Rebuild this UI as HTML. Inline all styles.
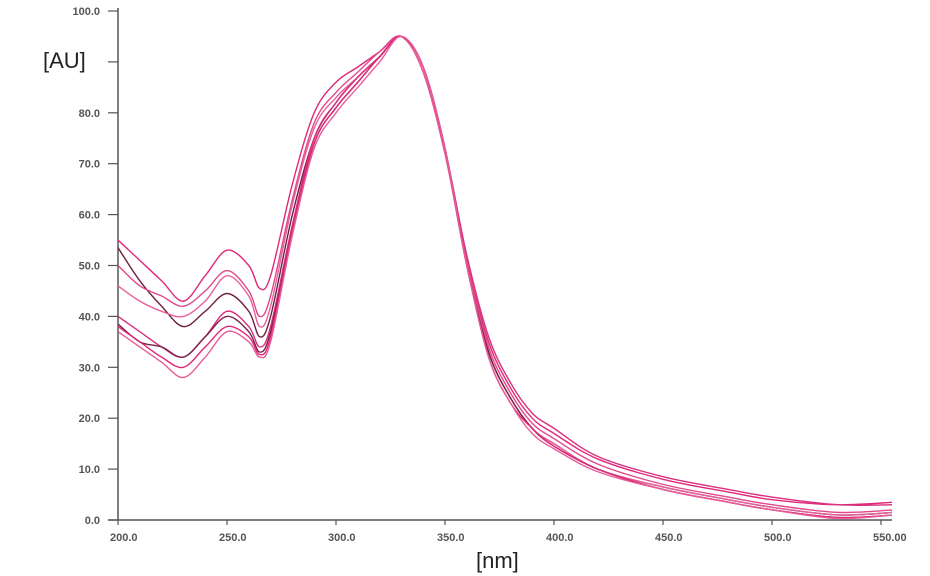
<!DOCTYPE html>
<html><head><meta charset="utf-8"><style>
body{margin:0;background:#fff;}
svg{display:block;font-family:"Liberation Sans",sans-serif;}
</style></head><body>
<svg id="chart" width="930" height="576"></svg>
<script>
const wavelengths=[200,210,220,230,240,250,260,265,270,280,290,300,310,320,330,340,350,360,370,380,390,400,420,450,480,500,530,556];
const s1=[55,51,47,43,48,53,50,45.5,48,66,80,86,89,92,95,88,72,51,35,26,20,17,12,8,5.5,4,3,3.5];
const s2=[53.5,47,42,38,41,44.5,41,36,40,60,75,82,87,91,95,89,73,50,33,24,18,15,10,6.5,4,2.5,1,1.5];
const s3=[50,46,44,42,45,49,45,40,44,63,78,84,88,92,95,88,72,51,34,25,19,16,11,7,4.5,3,1.5,2];
const s4=[46,43,41,40,43,48,44,38,42,62,77,83,87,91,95,88,72,50,33,24,18,15,10,6.5,4,2.5,1,1.5];
const s5=[40,37,34,32,36,41,38,34,38,58,75,82,87,91,95,89,73,52,36,27,21,18,12.5,8.5,6,4.5,3,3];
const s6=[38.5,35,34,32,36,40,37,33,37,57,74,81,86,91,95,89,73,50,33,24,18,14.5,10,6,3.5,2,0.5,1];
const s7=[38,35,32,30,34,38,36,32.5,36,57,74,81,86,91,95,89,73,50,32,23,18,14.5,10,6,3.5,2,0.5,1];
const s8=[37,34,31,28,32,37,35,32,35,56,73,80,85,90,95,89,73,50,32,23,17,14,9.5,6,3.5,2,0.3,1];
const seriesList=[s1,s2,s3,s4,s5,s6,s7,s8];
const seriesColors=["#e0287a","#6e2042","#e04a8a","#e8609a","#d8307f","#7a2348","#e0287a","#e85c98"];
const xTicks=[200,250,300,350,400,450,500,550];
const xTickLabels=["200.0","250.0","300.0","350.0","400.0","450.0","500.0","550.00"];
const yTicks=[0,10,20,30,40,50,60,70,80,90,100];
const yTickLabels=["0.0","10.0","20.0","30.0","40.0","50.0","60.0","70.0","80.0","","100.0"];

const NS="http://www.w3.org/2000/svg";
const svg=document.getElementById('chart');
const X0=118,XR=892,Y0=520;
const xs=v=>X0+(v-200)*2.18;
const ys=v=>Y0-v*5.09;
function mk(t,a,p){const e=document.createElementNS(NS,t);for(const k in a)e.setAttribute(k,a[k]);(p||svg).appendChild(e);return e;}
const clip=mk('clipPath',{id:'cp'});mk('rect',{x:X0,y:0,width:XR-X0,height:Y0+1},clip);
const ya=mk('line',{x1:X0,y1:8,x2:X0,y2:Y0,stroke:'#555','stroke-width':1.5});

const xa=mk('line',{x1:108,y1:Y0,x2:XR,y2:Y0,stroke:'#555','stroke-width':1.5});

yTicks.forEach((v,i)=>{
  mk('line',{x1:108,y1:ys(v),x2:X0,y2:ys(v),stroke:'#555','stroke-width':1.2});
  const t=mk('text',{x:100,y:ys(v)+4,'text-anchor':'end','font-size':11,fill:'#555','font-weight':'bold'});
  t.textContent=yTickLabels[i];
  
});
xTicks.forEach((v,i)=>{
  mk('line',{x1:xs(v),y1:Y0,x2:xs(v),y2:Y0+5,stroke:'#555','stroke-width':1.2});
  const t=mk('text',{x:xs(v)-8,y:Y0+21,'font-size':11,fill:'#555','font-weight':'bold'});
  t.textContent=xTickLabels[i];
  
});
const yt=mk('text',{x:43,y:68,'font-size':22,fill:'#222'});yt.textContent='[AU]';

const xt=mk('text',{x:476,y:568,'font-size':22,fill:'#222'});xt.textContent='[nm]';

const g=mk('g',{'clip-path':'url(#cp)'});
seriesList.forEach((s,si)=>{
  const P=wavelengths.map((w,i)=>[xs(w),ys(s[i])]);
  let d='M'+P[0][0]+','+P[0][1];
  for(let i=0;i<P.length-1;i++){
    const p0=P[i-1]||P[i],p1=P[i],p2=P[i+1],p3=P[i+2]||P[i+1];
    const c1=[p1[0]+(p2[0]-p0[0])/6,p1[1]+(p2[1]-p0[1])/6];
    const c2=[p2[0]-(p3[0]-p1[0])/6,p2[1]-(p3[1]-p1[1])/6];
    d+=' C'+c1+' '+c2+' '+p2;
  }
  const path=mk('path',{d:d,fill:'none',stroke:seriesColors[si],'stroke-width':1.4},g);
  
  
});
</script>
</body></html>
